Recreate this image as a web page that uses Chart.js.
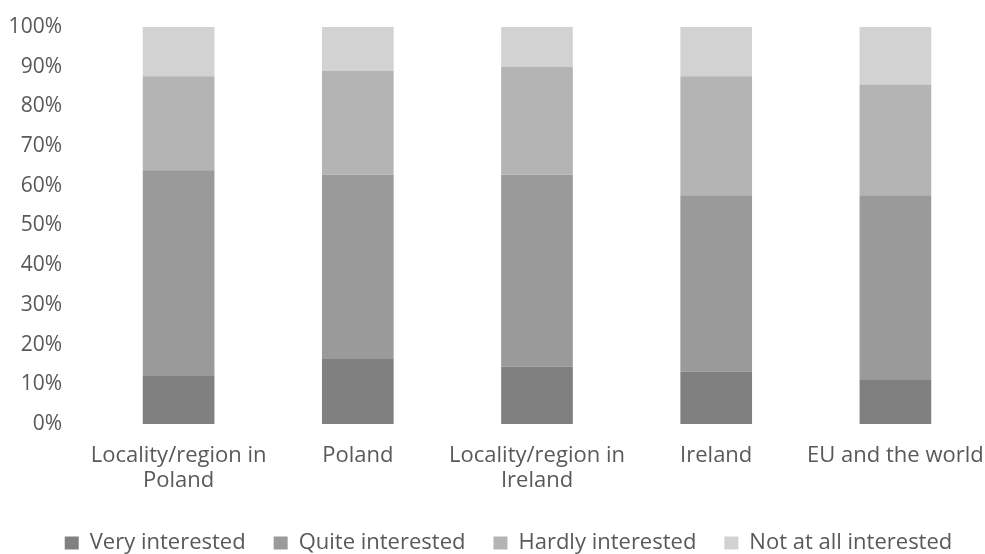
<!DOCTYPE html>
<html>
<head>
<meta charset="utf-8">
<script src="https://cdn.jsdelivr.net/npm/chart.js@4.4.1/dist/chart.umd.min.js"></script>
<style>
  html, body { margin: 0; padding: 0; background: #fff; }
  #wrap { width: 985px; height: 554px; }
</style>
</head>
<body>
<div id="wrap"><canvas id="chart" width="985" height="554"></canvas></div>
<script>
/* ── DATA (% of respondents) ─────────────────────────────── */
const categories = [
  ['Locality/region in', 'Poland'],
  'Poland',
  ['Locality/region in', 'Ireland'],
  'Ireland',
  'EU and the world'
];
const veryInterested     = [12.3, 16.4, 14.4, 13.2, 11.1];
const quiteInterested    = [51.6, 46.4, 48.4, 44.4, 46.5];
const hardlyInterested   = [23.7, 26.1, 27.1, 30.0, 27.9];
const notAtAllInterested = [12.4, 11.1, 10.1, 12.4, 14.5];

const seriesNames  = ['Very interested', 'Quite interested', 'Hardly interested', 'Not at all interested'];
const seriesColors = ['#808080', '#9a9a9a', '#b4b4b4', '#d2d2d2'];
const yTicks = [0, 10, 20, 30, 40, 50, 60, 70, 80, 90, 100];

const textColor  = '#595959';
const fontFamily = '"Open Sans", "Noto Sans", sans-serif';

/* ── LEGEND PLACEMENT (fixed height, nudged right like the original) ── */
const legendPlacement = {
  id: 'legendPlacement',
  beforeLayout(chart) {
    const lg = chart.legend;
    if (lg && !lg._fitPatched) {
      const fit = lg.fit.bind(lg);
      lg.fit = function () { fit(); this.height = 50; };
      lg._fitPatched = true;
    }
  },
  afterLayout(chart) {
    const lg = chart.legend;
    if (lg) { lg.left += 16; lg.right += 16; }
  }
};

/* ── CHART ───────────────────────────────────────────────── */
const seriesValues = [veryInterested, quiteInterested, hardlyInterested, notAtAllInterested];

const datasets = seriesValues.map((vals, i) => ({
  label             : seriesNames[i],
  data              : vals,
  backgroundColor   : seriesColors[i],
  borderWidth       : 0,
  categoryPercentage: 1,
  barPercentage     : 0.4,
}));

new Chart(document.getElementById('chart'), {
  type: 'bar',
  data: { labels: categories, datasets },
  plugins: [legendPlacement],
  options: {
    responsive: false,
    animation : false,
    layout: { padding: { top: 27, right: 0, bottom: 0, left: 0 } },
    scales: {
      x: {
        stacked: true,
        grid   : { display: false, drawTicks: false },
        border : { display: false },
        ticks  : {
          color: textColor,
          padding: 20,
          maxRotation: 0,
          autoSkip: false,
          font: { family: fontFamily, size: 22, lineHeight: 1.1 }
        },
        afterFit: s => { s.height = 80; s.paddingLeft = 0; s.paddingRight = 0; }
      },
      y: {
        stacked: true,
        min: 0,
        max: 100,
        afterBuildTicks: s => { s.ticks = yTicks.map(v => ({ value: v })); },
        grid  : { display: false, drawTicks: false },
        border: { display: false },
        ticks : {
          color: textColor,
          padding: 27,
          callback: v => v + '%',
          font: { family: fontFamily, size: 21 }
        },
        afterFit: s => { s.width = 89; s.paddingTop = 0; s.paddingBottom = 0; }
      }
    },
    plugins: {
      legend: {
        position: 'bottom',
        labels: {
          color: textColor,
          boxWidth: 14,
          boxHeight: 13,
          padding: 28,
          font: { family: fontFamily, size: 22 }
        }
      },
      tooltip: { enabled: false }
    }
  }
});
</script>
</body>
</html>
